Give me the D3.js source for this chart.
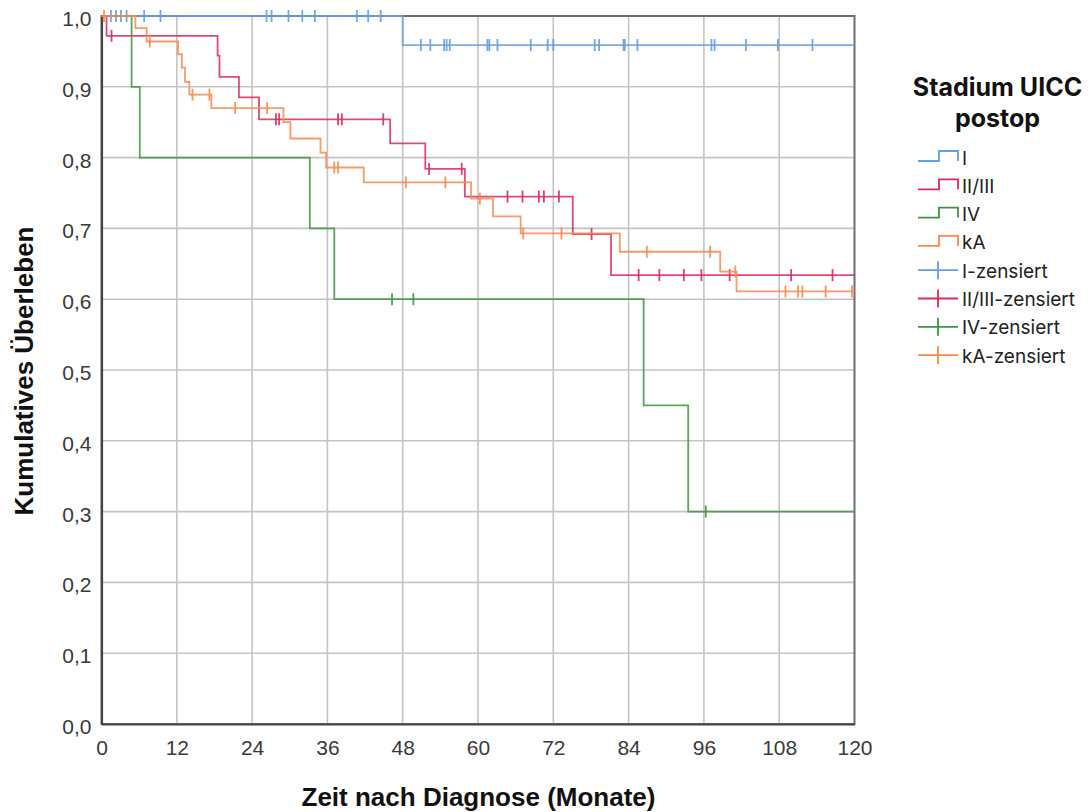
<!DOCTYPE html>
<html lang="de">
<head>
<meta charset="utf-8">
<script src="https://cdn.jsdelivr.net/npm/d3@7"></script>
<style>
  html, body { margin: 0; padding: 0; background: #fff; }
  svg { display: block; }
</style>
</head>
<body>
<svg id="chart" width="1089" height="812"></svg>
<script>
// Kaplan-Meier curves: cumulative survival by postoperative UICC stage

// Month ticks and survival ticks
const xTicks = [0, 12, 24, 36, 48, 60, 72, 84, 96, 108, 120];
const yTicks = [0, 0.1, 0.2, 0.3, 0.4, 0.5, 0.6, 0.7, 0.8, 0.9, 1.0];

// Stage I: event times (months) and survival after each event, censored times
const eventTimesI = [48.0];
const survivalI   = [0.959];
const censoredI   = [1.5, 2.3, 3.1, 4.0, 6.8, 9.4, 26.3, 27.1, 29.8, 32.0, 34.0, 40.7, 42.5, 44.5,
                     50.9, 52.4, 54.6, 55.0, 55.5, 61.5, 61.8, 63.1, 68.4, 71.1, 72.0, 78.6, 79.3,
                     83.2, 83.4, 85.4, 97.2, 97.7, 102.7, 107.8, 113.3];

// Stage II/III
const eventTimesII = [0.8, 18.5, 18.8, 21.9, 25.1, 46.0, 51.6, 57.9, 75.1, 81.2];
const survivalII   = [0.972, 0.944, 0.914, 0.885, 0.854, 0.820, 0.784, 0.745, 0.692, 0.634];
const censoredII   = [1.6, 27.8, 28.3, 37.7, 38.3, 44.9, 52.2, 57.4, 64.7, 67.1, 69.7, 70.5, 72.9,
                      78.1, 85.6, 88.9, 92.8, 95.6, 100.1, 109.9, 116.5];

// Stage IV
const eventTimesIV = [4.8, 6.1, 33.2, 37.1, 86.4, 93.5];
const survivalIV   = [0.9, 0.8, 0.7, 0.6, 0.45, 0.30];
const censoredIV   = [46.3, 49.7, 96.3];

// Stage not specified (kA)
const eventTimesKA = [5.4, 7.2, 12.2, 12.8, 13.3, 14.0, 17.5, 29.0, 30.1, 34.9, 35.8, 41.8,
                      58.9, 62.4, 66.8, 82.6, 98.6, 101.2];
const survivalKA   = [0.983, 0.964, 0.946, 0.927, 0.907, 0.889, 0.870, 0.850, 0.827, 0.807, 0.786, 0.765,
                      0.742, 0.717, 0.693, 0.667, 0.639, 0.611];
const censoredKA   = [0.4, 7.7, 14.5, 17.2, 21.3, 26.4, 37.1, 37.7, 48.5, 54.8, 60.3, 67.2, 73.3,
                      86.9, 97.0, 101.0, 109.0, 111.0, 111.7, 115.4, 119.6];

const groups = [
  { name: "I",      color: "#62a0e6", times: eventTimesI,  surv: survivalI,  cens: censoredI },
  { name: "II/III", color: "#dc2a5c", times: eventTimesII, surv: survivalII, cens: censoredII },
  { name: "IV",     color: "#3f963f", times: eventTimesIV, surv: survivalIV, cens: censoredIV },
  { name: "kA",     color: "#f98a4c", times: eventTimesKA, surv: survivalKA, cens: censoredKA }
];

const svg = d3.select("#chart");
const plot = { left: 101.5, right: 854.5, top: 16, bottom: 724 };

const x = d3.scaleLinear().domain([0, 120]).range([plot.left, plot.right]);
const y = d3.scaleLinear().domain([0, 1]).range([plot.bottom, plot.top]);

// Grid
const grid = svg.append("g").attr("class", "grid");
grid.selectAll("line.v").data(xTicks.slice(1, -1)).join("line")
  .attr("x1", d => x(d)).attr("x2", d => x(d))
  .attr("y1", plot.top).attr("y2", plot.bottom)
  .attr("stroke", "#c4c4c4").attr("stroke-width", 1.6);
grid.selectAll("line.h").data(yTicks.slice(1, -1)).join("line")
  .attr("x1", plot.left).attr("x2", plot.right)
  .attr("y1", d => y(d)).attr("y2", d => y(d))
  .attr("stroke", "#c4c4c4").attr("stroke-width", 1.6);

// Frame
svg.append("rect")
  .attr("x", plot.left).attr("y", plot.top)
  .attr("width", plot.right - plot.left).attr("height", plot.bottom - plot.top)
  .attr("fill", "none").attr("stroke", "#6e6e6e").attr("stroke-width", 2);

// Axes (text only; no tick marks)
const fmt = d => d3.format(".1f")(d).replace(".", ",");
const xAxis = svg.append("g").attr("transform", `translate(0,${plot.bottom})`)
  .call(d3.axisBottom(x).tickValues(xTicks).tickSize(0).tickPadding(12));
const yAxis = svg.append("g").attr("transform", `translate(${plot.left},0)`)
  .call(d3.axisLeft(y).tickValues(yTicks).tickFormat(fmt).tickSize(0).tickPadding(10));
[xAxis, yAxis].forEach(a => {
  a.select(".domain").attr("stroke", "#454545").attr("stroke-width", 2.2);
  a.selectAll("text")
    .attr("font-family", "'Liberation Sans', Arial, sans-serif")
    .attr("font-size", 21).attr("fill", "#3a3a3a");
});
yAxis.selectAll("text").attr("dy", "0.45em");
xAxis.selectAll("text").attr("dy", "0.9em");

// Axis titles
svg.append("text")
  .attr("x", (plot.left + plot.right) / 2 + 0.5).attr("y", 806)
  .attr("text-anchor", "middle")
  .attr("font-family", "'Liberation Sans', Arial, sans-serif")
  .attr("font-size", 26).attr("font-weight", "bold").attr("fill", "#111")
  .text("Zeit nach Diagnose (Monate)");
svg.append("text")
  .attr("transform", `translate(33,${371}) rotate(-90)`)
  .attr("text-anchor", "middle")
  .attr("font-family", "'Liberation Sans', Arial, sans-serif")
  .attr("font-size", 26).attr("font-weight", "bold").attr("fill", "#111")
  .text("Kumulatives Überleben");

// Survival value at a time (right-continuous step function)
function survAt(g, t) {
  let s = 1;
  g.times.forEach((ti, i) => { if (ti <= t) s = g.surv[i]; });
  return s;
}

const stepLine = d3.line().x(d => x(d[0])).y(d => y(d[1])).curve(d3.curveStepAfter);
const curves = svg.append("g").attr("class", "curves");

groups.forEach(g => {
  const pts = [[0, 1]].concat(g.times.map((t, i) => [t, g.surv[i]]));
  pts.push([120, g.surv[g.surv.length - 1]]);
  const gg = curves.append("g");
  gg.append("path")
    .attr("d", stepLine(pts))
    .attr("fill", "none").attr("stroke", g.color)
    .attr("stroke-width", 1.8).attr("stroke-opacity", 0.85);
  gg.selectAll("line.cens").data(g.cens).join("line")
    .attr("x1", d => x(d)).attr("x2", d => x(d))
    .attr("y1", d => y(survAt(g, d)) - 6).attr("y2", d => y(survAt(g, d)) + 6)
    .attr("stroke", g.color).attr("stroke-width", 1.8).attr("stroke-opacity", 0.9);
});

// Legend
const legend = svg.append("g").attr("class", "legend");
const legendFont = "Inter, 'Open Sans', sans-serif";
legend.append("text").attr("x", 997.5).attr("y", 96)
  .attr("text-anchor", "middle").attr("font-family", legendFont)
  .attr("font-size", 25).attr("font-weight", "bold").attr("fill", "#111")
  .text("Stadium UICC");
legend.append("text").attr("x", 997.5).attr("y", 127)
  .attr("text-anchor", "middle").attr("font-family", legendFont)
  .attr("font-size", 25).attr("font-weight", "bold").attr("fill", "#111")
  .text("postop");

const legendItems = groups.map(g => ({ label: g.name, color: g.color, kind: "step" }))
  .concat(groups.map(g => ({ label: g.name + "-zensiert", color: g.color, kind: "cens" })));

legendItems.forEach((it, i) => {
  const cy = 157 + i * 28.3;
  const row = legend.append("g");
  if (it.kind === "step") {
    row.append("path")
      .attr("d", `M918,${cy + 4}H939V${cy - 6}H958V${cy + 4}`)
      .attr("fill", "none").attr("stroke", it.color).attr("stroke-width", 1.8);
  } else {
    row.append("line").attr("x1", 918).attr("x2", 958).attr("y1", cy).attr("y2", cy)
      .attr("stroke", it.color).attr("stroke-width", 1.8);
    row.append("line").attr("x1", 938).attr("x2", 938).attr("y1", cy - 9).attr("y2", cy + 9)
      .attr("stroke", it.color).attr("stroke-width", 1.8);
  }
  row.append("text").attr("x", 962).attr("y", cy + 1)
    .attr("dominant-baseline", "central")
    .attr("font-family", legendFont).attr("font-size", 19).attr("fill", "#222")
    .text(it.label);
});
</script>
</body>
</html>
